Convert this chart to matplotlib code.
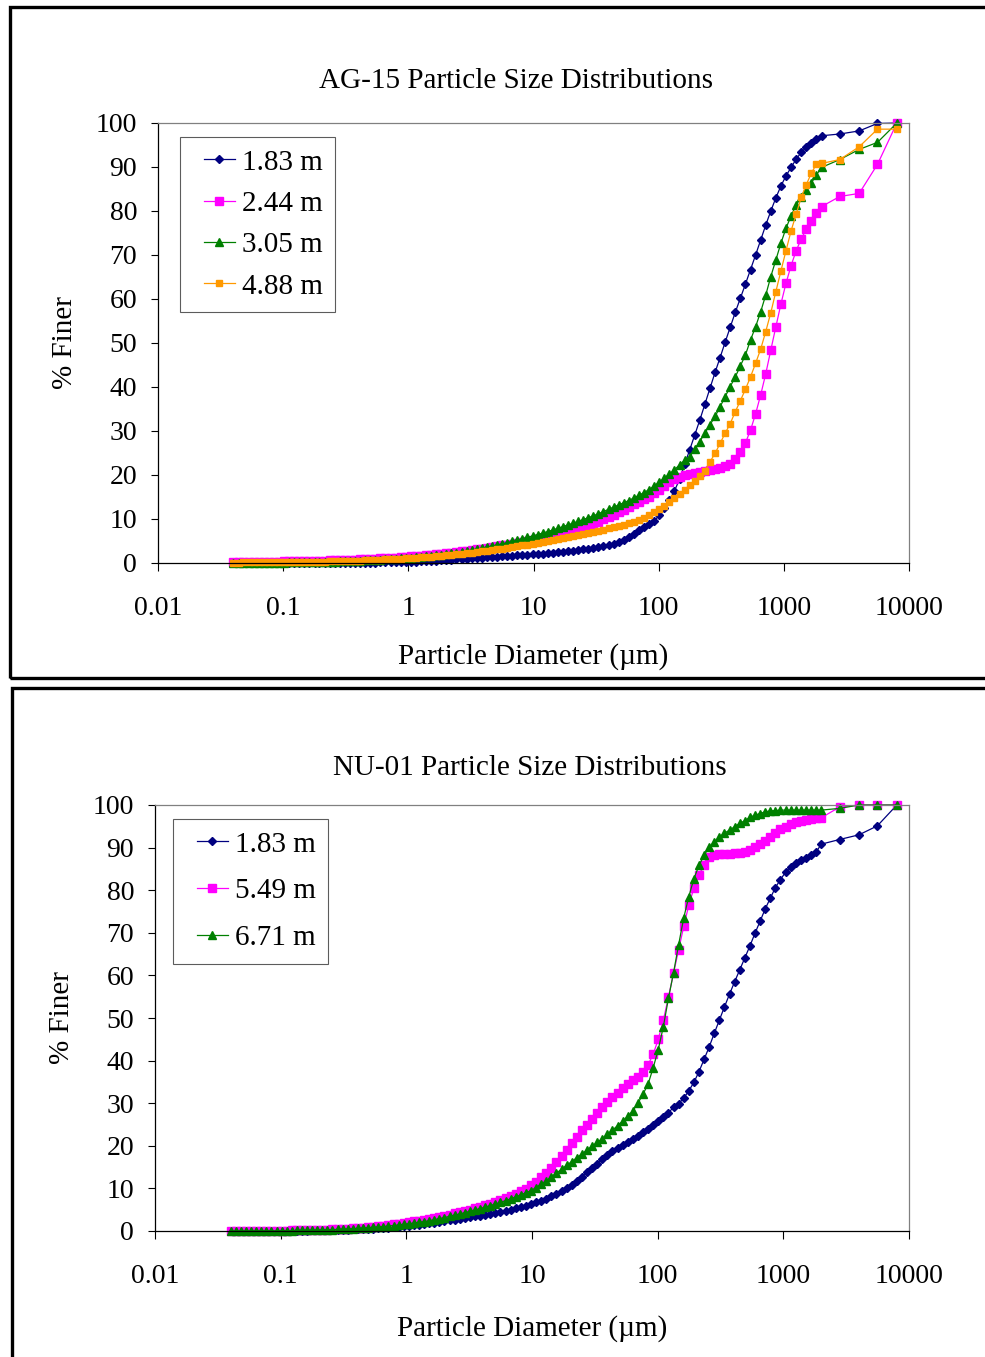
"""Two stacked particle size distribution charts (AG-15 and NU-01)."""

import matplotlib
matplotlib.use("Agg")
import matplotlib.pyplot as plt
from matplotlib.legend_handler import HandlerLine2D
from matplotlib.lines import Line2D
from matplotlib.patches import Rectangle
from matplotlib.ticker import NullLocator

plt.rcParams["font.family"] = ["Liberation Serif", "DejaVu Serif"]

W, H = 985, 1357

# laser diffraction channel sizes (um), 0.04 - 2000
SIZES = [
    0.040, 0.044, 0.048, 0.053, 0.058, 0.064, 0.070, 0.077, 0.084, 0.093,
    0.102, 0.112, 0.122, 0.134, 0.148, 0.162, 0.178, 0.195, 0.214, 0.235,
    0.258, 0.284, 0.311, 0.342, 0.375, 0.412, 0.452, 0.496, 0.545, 0.598,
    0.657, 0.721, 0.791, 0.869, 0.954, 1.047, 1.149, 1.261, 1.385, 1.520,
    1.669, 1.832, 2.011, 2.208, 2.423, 2.660, 2.920, 3.206, 3.519, 3.863,
    4.241, 4.656, 5.111, 5.611, 6.159, 6.761, 7.422, 8.148, 8.944, 9.819,
    10.78, 11.83, 12.99, 14.26, 15.65, 17.18, 18.86, 20.71, 22.73, 24.95,
    27.39, 30.07, 33.01, 36.24, 39.78, 43.67, 47.94, 52.62, 57.77, 63.41,
    69.61, 76.42, 83.89, 92.09, 101.1, 111.0, 121.8, 133.7, 146.8, 161.2,
    176.9, 194.2, 213.2, 234.1, 256.9, 282.1, 309.6, 339.9, 373.1, 409.6,
    449.7, 493.6, 541.9, 594.9, 653.0, 716.9, 786.9, 863.9, 948.3, 1041,
    1143, 1255, 1377, 1512, 1660, 1822, 2000,
]
# sieve sizes (um)
SIEVE = [2800, 4000, 5600, 8000]

XTICKS = [0.01, 0.1, 1, 10, 100, 1000, 10000]
XTICK_LABELS = ["0.01", "0.1", "1", "10", "100", "1000", "10000"]

# ---- AG-15 ----
AG_183 = [
    0.0, 0.0, 0.0, 0.0, 0.0, 0.0, 0.0, 0.0, 0.0, 0.0,
    0.0, 0.0, 0.0, 0.0, 0.0, 0.01, 0.01, 0.02, 0.02, 0.03,
    0.03, 0.04, 0.05, 0.06, 0.07, 0.08, 0.09, 0.10, 0.11, 0.12,
    0.13, 0.15, 0.17, 0.19, 0.22, 0.26, 0.30, 0.35, 0.40, 0.46,
    0.52, 0.59, 0.66, 0.74, 0.82, 0.91, 1.00, 1.08, 1.16, 1.24,
    1.31, 1.38, 1.45, 1.52, 1.59, 1.66, 1.73, 1.80, 1.88, 1.96,
    2.05, 2.14, 2.24, 2.34, 2.45, 2.56, 2.68, 2.80, 2.93, 3.07,
    3.22, 3.39, 3.58, 3.80, 4.06, 4.38, 4.78, 5.28, 5.90, 6.60,
    7.4, 8.1, 8.8, 9.6, 10.8, 12.4, 14.3, 16.4, 19.0, 22.4,
    25.7, 29.1, 32.5, 36.1, 39.7, 43.3, 46.7, 50.2, 53.6, 57.0,
    60.2, 63.4, 66.7, 70.0, 73.4, 76.8, 80.0, 83.0, 85.7, 88.0,
    89.9, 91.8, 93.3, 94.5, 95.4, 96.3, 97.1,
]
AG_183_SIEVE = [97.5, 98.2, 99.9, 100.0]

AG_244 = [
    0.20, 0.21, 0.22, 0.23, 0.24, 0.25, 0.27, 0.29, 0.31, 0.33,
    0.35, 0.37, 0.39, 0.41, 0.43, 0.45, 0.48, 0.51, 0.54, 0.57,
    0.60, 0.64, 0.68, 0.72, 0.77, 0.82, 0.87, 0.93, 0.99, 1.05,
    1.11, 1.18, 1.25, 1.32, 1.40, 1.48, 1.57, 1.66, 1.76, 1.87,
    1.98, 2.10, 2.22, 2.35, 2.49, 2.63, 2.78, 2.94, 3.10, 3.27,
    3.44, 3.62, 3.80, 3.99, 4.18, 4.38, 4.58, 4.79, 5.01, 5.24,
    5.48, 5.73, 5.99, 6.26, 6.54, 6.83, 7.13, 7.44, 7.76, 8.09,
    8.5, 8.9, 9.4, 9.9, 10.4, 10.9, 11.5, 12.1, 12.7, 13.3,
    13.9, 14.5, 15.1, 15.8, 16.5, 17.4, 18.4, 19.1, 19.6, 19.9,
    20.2, 20.4, 20.6, 20.9, 21.1, 21.3, 21.6, 22.0, 22.6, 23.6,
    25.3, 27.3, 30.2, 33.9, 38.2, 43.0, 48.4, 53.7, 58.9, 63.6,
    67.6, 71.0, 73.6, 75.9, 77.7, 79.5, 81.0,
]
AG_244_SIEVE = [83.3, 84.0, 90.6, 100.0]

AG_305 = [
    0.00, 0.01, 0.01, 0.02, 0.02, 0.03, 0.04, 0.05, 0.06, 0.08,
    0.10, 0.12, 0.14, 0.16, 0.18, 0.20, 0.22, 0.25, 0.28, 0.31,
    0.34, 0.38, 0.42, 0.46, 0.50, 0.55, 0.60, 0.65, 0.70, 0.76,
    0.82, 0.89, 0.96, 1.04, 1.12, 1.21, 1.30, 1.40, 1.51, 1.63,
    1.76, 1.90, 2.05, 2.21, 2.38, 2.56, 2.75, 2.95, 3.16, 3.38,
    3.61, 3.85, 4.10, 4.36, 4.63, 4.91, 5.20, 5.50, 5.81, 6.13,
    6.46, 6.80, 7.15, 7.51, 7.88, 8.26, 8.65, 9.05, 9.46, 9.88,
    10.3, 10.7, 11.2, 11.7, 12.2, 12.7, 13.2, 13.7, 14.2, 14.8,
    15.4, 16.0, 16.7, 17.5, 18.4, 19.3, 20.2, 21.2, 22.3, 23.3,
    24.2, 25.8, 27.6, 29.6, 31.4, 33.3, 35.5, 37.8, 40.1, 42.3,
    44.8, 47.3, 50.7, 53.7, 57.1, 60.9, 65.1, 68.9, 72.7, 76.1,
    78.9, 81.4, 83.1, 84.8, 86.4, 88.2, 89.9,
]
AG_305_SIEVE = [91.7, 94.0, 95.6, 100.0]

AG_488 = [
    0.10, 0.11, 0.12, 0.13, 0.14, 0.15, 0.16, 0.17, 0.18, 0.19,
    0.20, 0.21, 0.22, 0.23, 0.25, 0.27, 0.29, 0.31, 0.33, 0.36,
    0.39, 0.42, 0.45, 0.48, 0.52, 0.56, 0.60, 0.65, 0.70, 0.75,
    0.80, 0.86, 0.92, 0.98, 1.05, 1.12, 1.20, 1.28, 1.37, 1.46,
    1.56, 1.66, 1.77, 1.88, 2.00, 2.12, 2.25, 2.38, 2.52, 2.66,
    2.81, 2.96, 3.12, 3.28, 3.45, 3.62, 3.80, 3.98, 4.17, 4.36,
    4.56, 4.76, 4.97, 5.18, 5.40, 5.62, 5.85, 6.08, 6.32, 6.56,
    6.81, 7.06, 7.32, 7.58, 7.85, 8.12, 8.40, 8.69, 8.98, 9.28,
    9.8, 10.3, 10.9, 11.5, 12.2, 13.0, 13.9, 14.8, 15.7, 16.7,
    17.7, 18.7, 19.7, 21.0, 23.0, 24.9, 27.2, 29.5, 31.7, 34.4,
    36.9, 39.5, 42.3, 45.4, 48.6, 52.6, 56.9, 61.7, 66.4, 71.0,
    75.5, 79.3, 83.1, 86.0, 88.6, 90.7, 90.8,
]
AG_488_SIEVE = [91.7, 94.6, 98.6, 98.6]

# ---- NU-01 ----
NU_183 = [
    0.0, 0.0, 0.0, 0.0, 0.0, 0.01, 0.01, 0.02, 0.02, 0.03,
    0.04, 0.05, 0.06, 0.07, 0.08, 0.10, 0.12, 0.14, 0.16, 0.19,
    0.22, 0.25, 0.28, 0.32, 0.36, 0.40, 0.45, 0.50, 0.56, 0.62,
    0.70, 0.78, 0.87, 0.97, 1.08, 1.20, 1.33, 1.47, 1.62, 1.78,
    1.95, 2.12, 2.30, 2.48, 2.66, 2.84, 3.02, 3.21, 3.41, 3.61,
    3.82, 4.04, 4.27, 4.51, 4.76, 5.03, 5.32, 5.63, 5.96, 6.31,
    6.7, 7.1, 7.6, 8.1, 8.7, 9.4, 10.1, 10.9, 11.7, 12.6,
    13.8, 14.8, 15.8, 16.8, 17.8, 18.7, 19.5, 20.3, 21.0, 21.7,
    22.4, 23.2, 24.0, 24.9, 25.8, 26.8, 27.8, 29.0, 29.9, 31.2,
    32.9, 34.9, 37.4, 40.3, 43.2, 46.4, 49.5, 52.6, 55.6, 58.5,
    61.3, 64.1, 66.9, 69.9, 72.7, 75.6, 78.1, 80.6, 82.5, 84.2,
    85.5, 86.5, 87.1, 87.6, 88.3, 88.9, 90.8,
]
NU_183_SIEVE = [91.9, 93.0, 95.1, 100.0]

NU_549 = [
    0.00, 0.01, 0.01, 0.02, 0.02, 0.03, 0.04, 0.05, 0.06, 0.07,
    0.08, 0.10, 0.12, 0.14, 0.16, 0.19, 0.22, 0.25, 0.29, 0.33,
    0.38, 0.43, 0.49, 0.55, 0.62, 0.70, 0.79, 0.89, 1.00, 1.12,
    1.25, 1.39, 1.54, 1.70, 1.87, 2.05, 2.24, 2.44, 2.65, 2.87,
    3.10, 3.34, 3.59, 3.85, 4.12, 4.40, 4.69, 5.00, 5.33, 5.68,
    6.05, 6.44, 6.86, 7.30, 7.77, 8.27, 8.80, 9.37, 9.97, 10.7,
    11.6, 12.6, 13.7, 14.9, 16.2, 17.6, 19.1, 20.6, 22.1, 23.6,
    25.0, 26.4, 27.7, 29.0, 30.2, 31.4, 32.5, 33.5, 34.5, 35.4,
    36.2, 37.4, 39.0, 41.5, 45.0, 49.5, 54.9, 60.5, 66.0, 71.5,
    76.5, 80.5, 83.6, 85.9, 87.7, 88.2, 88.5, 88.5, 88.5, 88.7,
    88.8, 89.0, 89.4, 90.1, 90.8, 91.6, 92.6, 93.5, 94.3, 94.9,
    95.5, 95.9, 96.2, 96.5, 96.7, 96.9, 97.0,
]
NU_549_SIEVE = [99.5, 100.0, 100.0, 100.0]

NU_671 = [
    0.00, 0.00, 0.01, 0.01, 0.02, 0.02, 0.03, 0.04, 0.05, 0.06,
    0.07, 0.08, 0.10, 0.12, 0.14, 0.16, 0.19, 0.22, 0.25, 0.29,
    0.33, 0.38, 0.43, 0.49, 0.55, 0.62, 0.69, 0.77, 0.86, 0.95,
    1.05, 1.16, 1.28, 1.41, 1.55, 1.70, 1.86, 2.03, 2.21, 2.40,
    2.65, 2.90, 3.16, 3.43, 3.71, 4.00, 4.30, 4.61, 4.93, 5.26,
    5.60, 5.96, 6.33, 6.72, 7.13, 7.56, 8.01, 8.48, 8.97, 9.48,
    10.2, 11.0, 11.8, 12.7, 13.6, 14.5, 15.4, 16.3, 17.2, 18.1,
    19.0, 19.9, 20.8, 21.7, 22.7, 23.7, 24.7, 25.8, 26.9, 28.2,
    30.0, 32.1, 34.5, 38.3, 42.6, 48.0, 54.6, 60.6, 67.2, 73.5,
    78.5, 82.7, 85.8, 88.2, 90.1, 91.3, 92.5, 93.4, 94.1, 94.9,
    95.7, 96.3, 97.1, 97.6, 98.0, 98.4, 98.6, 98.7, 98.8, 98.8,
    98.8, 98.8, 98.8, 98.8, 98.8, 98.8, 98.8,
]
NU_671_SIEVE = [99.2, 100.0, 100.0, 100.0]

NAVY, MAGENTA, GREEN, ORANGE = "#000080", "#FF00FF", "#008000", "#FF9900"

AG_SERIES = [
    ("1.83 m", AG_183 + AG_183_SIEVE, NAVY, "D", 4.3),
    ("2.44 m", AG_244 + AG_244_SIEVE, MAGENTA, "s", 5.8),
    ("3.05 m", AG_305 + AG_305_SIEVE, GREEN, "^", 6.2),
    ("4.88 m", AG_488 + AG_488_SIEVE, ORANGE, "s", 4.3),
]
NU_SERIES = [
    ("1.83 m", NU_183 + NU_183_SIEVE, NAVY, "D", 4.3),
    ("5.49 m", NU_549 + NU_549_SIEVE, MAGENTA, "s", 6.0),
    ("6.71 m", NU_671 + NU_671_SIEVE, GREEN, "^", 6.3),
]


def px_axes(fig, left, top, right, bottom):
    return fig.add_axes([left / W, 1 - bottom / H, (right - left) / W,
                         (bottom - top) / H])


def draw_panel(fig, box, series, title, title_xy, ylab_x, xlab_y,
               leg_anchor, leg_spacing):
    left, top, right, bottom = box
    ax = px_axes(fig, left, top, right, bottom)
    x = SIZES + SIEVE
    for label, y, color, marker, ms in series:
        ax.plot(x, y, color=color, lw=0.9, marker=marker, ms=ms,
                mec=color, mfc=color, label=label, clip_on=False)

    ax.set_xscale("log")
    ax.set_xlim(0.01, 10000)
    ax.set_ylim(0, 100)
    ax.set_xticks(XTICKS)
    ax.set_xticklabels(XTICK_LABELS)
    ax.xaxis.set_minor_locator(NullLocator())
    ax.set_yticks(range(0, 101, 10))
    ax.tick_params(axis="x", direction="out", length=6, width=0.8,
                   pad=17.5, labelsize=20)
    ax.tick_params(axis="y", direction="out", length=5, width=0.8,
                   pad=10, labelsize=20)
    for side in ("top", "right"):
        ax.spines[side].set_color("#808080")
        ax.spines[side].set_linewidth(0.9)
    for side in ("left", "bottom"):
        ax.spines[side].set_linewidth(0.9)

    leg = ax.legend(loc="upper left", bbox_to_anchor=leg_anchor,
                    fontsize=21, frameon=True, fancybox=False,
                    borderaxespad=0, borderpad=0.42, handlelength=1.45,
                    handletextpad=0.25, labelspacing=leg_spacing,
                    handler_map={Line2D: HandlerLine2D(xpad=0.4)})
    leg.get_frame().set_edgecolor("#333333")
    leg.get_frame().set_linewidth(0.8)

    fig.text(title_xy[0] / W, 1 - title_xy[1] / H, title,
             ha="center", va="center", fontsize=21)
    fig.text(ylab_x / W, 1 - (top + bottom) / 2 / H, "% Finer",
             rotation=90, ha="center", va="center", fontsize=21)
    fig.text((left + right) / 2 / W, 1 - xlab_y / H,
             "Particle Diameter (\u00b5m)",
             ha="center", va="center", fontsize=21)
    return ax


def main():
    fig = plt.figure(figsize=(W / 100, H / 100), dpi=100)

    # outer chart frames
    fig.add_artist(Rectangle((10 / W, 1 - 678 / H), 2, (678 - 7) / H,
                             transform=fig.transFigure, fill=False,
                             lw=2.4, ec="black"))
    fig.add_artist(Rectangle((12 / W, -1), 2, 1 + (1 - 688 / H),
                             transform=fig.transFigure, fill=False,
                             lw=2.4, ec="black"))

    draw_panel(fig, (158, 123, 909, 563), AG_SERIES,
               "AG-15 Particle Size Distributions", (516, 81), 65, 657,
               (22 / 751, 1 - 14 / 440), 0.51)
    draw_panel(fig, (155, 805, 909, 1231), NU_SERIES,
               "NU-01 Particle Size Distributions", (530, 768), 62, 1329,
               (18 / 754, 1 - 14 / 426), 0.70)

    fig.savefig("out.png", dpi=100)
    plt.close(fig)


if __name__ == "__main__":
    main()
